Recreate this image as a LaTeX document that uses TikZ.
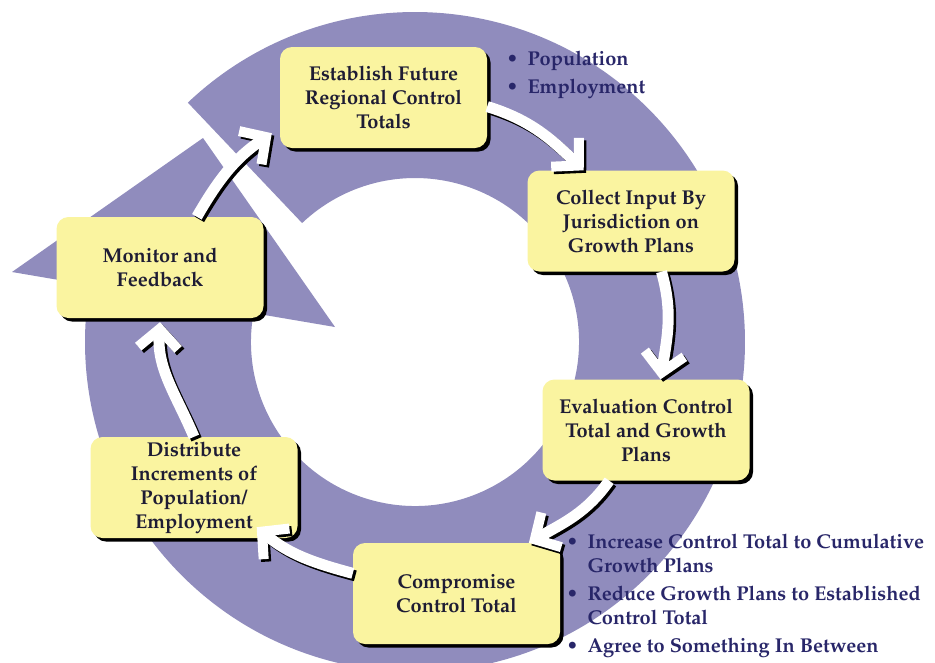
\documentclass[tikz,border=0pt]{standalone}
\usepackage[T1]{fontenc}
\usepackage{mathpazo}
\RequirePackage{xcolor}
\usetikzlibrary{calc}
\usetikzlibrary{positioning}
\usetikzlibrary{arrows.meta,shadows}

\definecolor{ringpurple}{RGB}{144,140,189}
\definecolor{boxyellow}{RGB}{250,244,160}
\definecolor{boxtext}{RGB}{30,28,52}
\definecolor{notetext}{RGB}{40,38,105}

\tikzset{
  stepbox/.style={fill=boxyellow, rounded corners=12pt, minimum width=207pt,
    minimum height=101pt, inner sep=2pt, align=center, text=boxtext,
    font=\fontsize{20}{24}\selectfont\bfseries,
    drop shadow={shadow xshift=3.5pt, shadow yshift=-3.5pt, opacity=1, fill=black}},
  notes/.style={anchor=north west, inner sep=0pt, text=notetext,
    font=\fontsize{20}{24}\selectfont\bfseries},
  flowtip/.style={-{Straight Barb[length=19pt, width=40pt, line width=10pt]}},
  flow/.style={draw=white, line width=11pt, flowtip,
    preaction={draw=black, line width=11pt, flowtip,
      transform canvas={shift={(2.5pt,-2.5pt)}}}}
}

\begin{document}
\begin{tikzpicture}[x=1pt, y=1pt]
  \fill[white] (0,0) rectangle (935,-662);
  \useasboundingbox (0,0) rectangle (935,-662);

  % big circular arrow
  \coordinate (hub) at (415,-342);
  \fill[ringpurple] ($(hub)+(133.5:330)$) arc[start angle=133.5, end angle=-195, radius=330]
    -- ($(hub)+(-195:164)$) arc[start angle=-195, end angle=133.5, radius=164] -- cycle;
  \fill[ringpurple] (12,-272) -- (203,-138) -- (335,-327) -- cycle;

  \node[stepbox] (estab) at (383.5,-97.5) {Establish Future\\Regional Control\\Totals};
  \node[stepbox] (collect) at (631,-221) {Collect Input By\\Jurisdiction on\\Growth Plans};
  \node[stepbox] (evaluate) at (646,-430) {Evaluation Control\\Total and Growth\\Plans};
  \node[stepbox] (compromise) at (456.5,-593.5) {Compromise\\Control Total};
  \node[stepbox] (distribute) at (194,-487.5) {Distribute\\Increments of\\Population/\\Employment};
  \node[stepbox] (monitor) at (160,-267.5) {Monitor and\\Feedback};

  \node[notes] (estabnotes) at ([shift={(19pt,-1.5pt)}]estab.north east)
    {\begin{tabular}{@{}l@{\hspace{9pt}}l@{}}
      \textbullet & Population\\[4pt]
      \textbullet & Employment
    \end{tabular}};
  \node[notes] (compnotes) at ([shift={(6pt,11pt)}]compromise.north east)
    {\begin{tabular}{@{}l@{\hspace{9pt}}l@{}}
      \textbullet & Increase Control Total to Cumulative\\
                  & Growth Plans\\[4pt]
      \textbullet & Reduce Growth Plans to Established\\
                  & Control Total\\[4pt]
      \textbullet & Agree to Something In Between
    \end{tabular}};

  \draw[flow] (estab.-5) to[out=-17, in=136] (collect.133);
  \draw[flow] (collect.-59) to[out=-74, in=81] (evaluate.74);
  \draw[flow] (evaluate.-126) to[out=-125, in=30] (compromise.35);
  \draw[flow] (compromise.169) to[out=165, in=-40] ([shift={(-41pt,11pt)}]distribute.south east);
  \draw[flow] (distribute.north) to[out=113, in=-94] ([yshift=-4pt]monitor.south);
  \draw[flow] (monitor.54) to[out=60, in=-146] ([xshift=-8pt]estab.199);
\end{tikzpicture}
\end{document}
